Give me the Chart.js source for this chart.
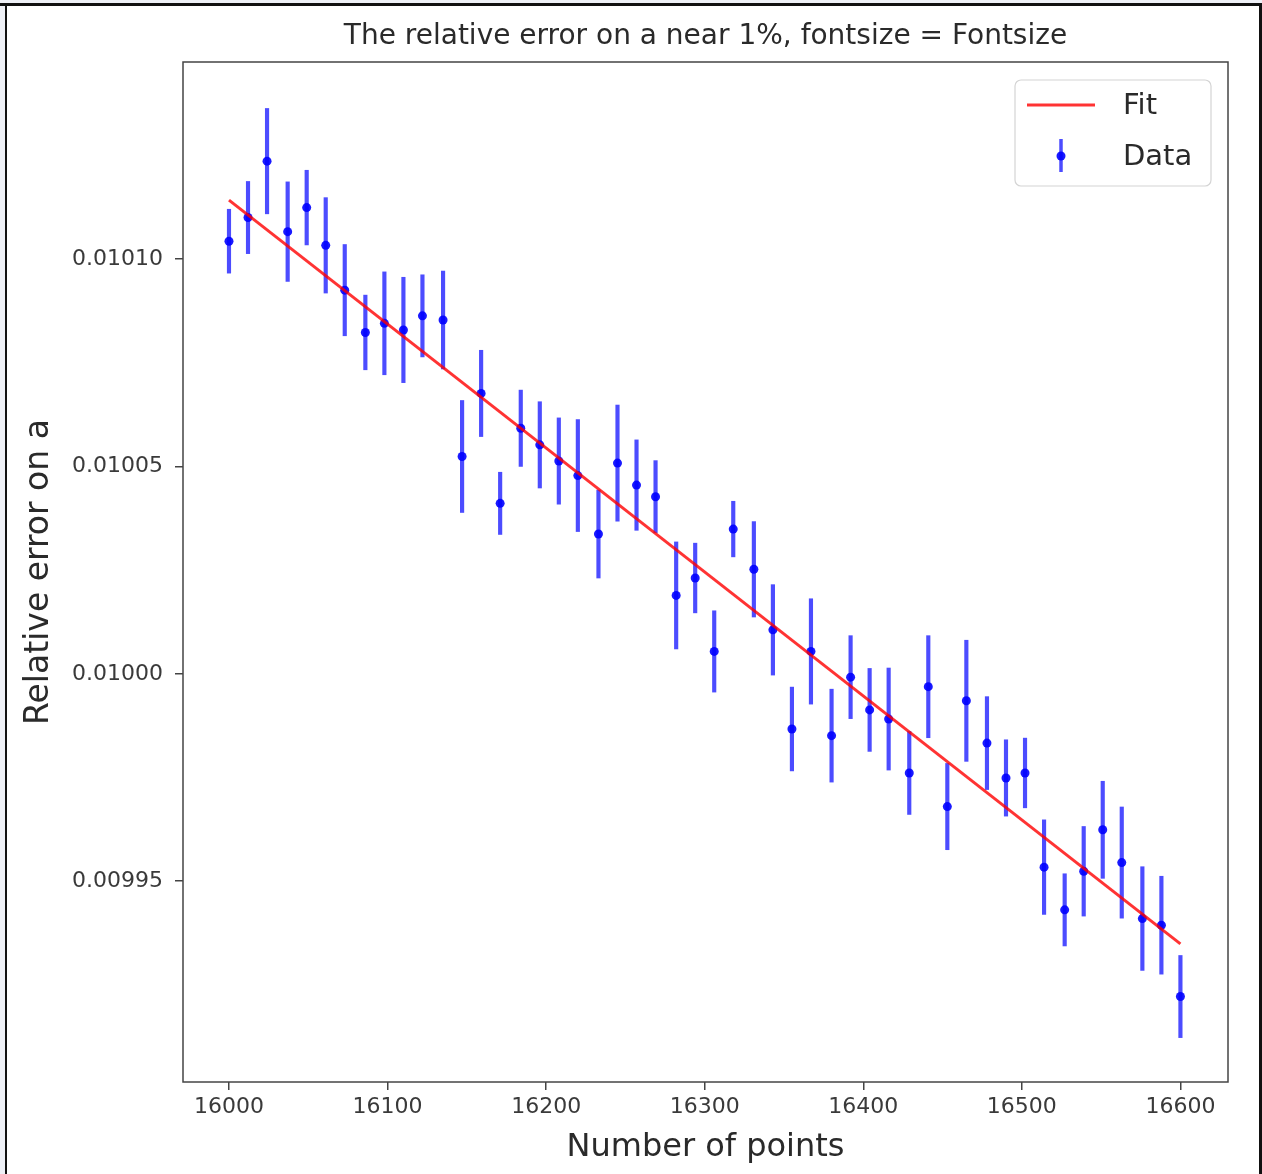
<!DOCTYPE html>
<html>
<head>
<meta charset="utf-8">
<script src="https://cdn.jsdelivr.net/npm/chart.js@4.4.0/dist/chart.umd.min.js"></script>
<style>
  html, body { margin: 0; padding: 0; background: #fff; }
  #wrap { width: 1262px; height: 1174px; }
</style>
</head>
<body>
<div id="wrap"><canvas id="errChart" width="1262" height="1174"></canvas></div>
<script>
  // number of points (x), measured relative error (y) and its error bar (x1e-6)
  const nPoints = [16000, 16012, 16024, 16037, 16049, 16061, 16073, 16086, 16098, 16110,
                   16122, 16135, 16147, 16159, 16171, 16184, 16196, 16208, 16220, 16233,
                   16245, 16257, 16269, 16282, 16294, 16306, 16318, 16331, 16343, 16355,
                   16367, 16380, 16392, 16404, 16416, 16429, 16441, 16453, 16465, 16478,
                   16490, 16502, 16514, 16527, 16539, 16551, 16563, 16576, 16588, 16600];
  const relErr = [0.0101043, 0.0101100, 0.0101236, 0.0101066, 0.0101124, 0.0101033, 0.0100925, 0.0100823, 0.0100845, 0.0100829,
                  0.0100863, 0.0100853, 0.0100524, 0.0100676, 0.0100411, 0.0100592, 0.0100552, 0.0100513, 0.0100478, 0.0100337,
                  0.0100508, 0.0100455, 0.0100427, 0.0100189, 0.0100231, 0.0100054, 0.0100349, 0.0100252, 0.0100106, 0.0099867,
                  0.0100054, 0.0099851, 0.0099992, 0.0099913, 0.0099891, 0.0099761, 0.0099969, 0.0099680, 0.0099935, 0.0099833,
                  0.0099749, 0.0099761, 0.0099534, 0.0099431, 0.0099524, 0.0099624, 0.0099545, 0.0099410, 0.0099394, 0.0099222];
  const relErrSigma = [7.7, 8.7, 12.7, 12.0, 9.0, 11.5, 11.0, 9.0, 12.4, 12.7,
                       9.9, 11.8, 13.5, 10.4, 7.5, 9.2, 10.4, 10.4, 13.5, 10.6,
                       14.0, 10.9, 8.7, 12.9, 8.4, 9.8, 6.7, 11.5, 10.9, 10.1,
                       12.7, 11.2, 10.0, 10.0, 12.3, 10.0, 12.3, 10.4, 14.6, 11.2,
                       9.2, 8.4, 11.4, 8.7, 10.8, 11.7, 13.4, 12.5, 11.8, 9.9];

  // linear fit end points
  const fitX = [16000, 16600];
  const fitY = [0.0101142, 0.0099349];

  const xTicks = [16000, 16100, 16200, 16300, 16400, 16500, 16600];
  const yTicks = [0.00995, 0.01000, 0.01005, 0.01010];

  const titleText = 'The relative error on a near 1%, fontsize = Fontsize';
  const FONT = "'DejaVu Sans', sans-serif";

  const decorPlugin = {
      id: 'decor',
      beforeDraw: (chart) => {
          const ctx = chart.ctx;
          const w = chart.width, h = chart.height;
          ctx.save();
          ctx.fillStyle = '#fff';
          ctx.fillRect(0, 0, w, h);
          // screenshot frame
          ctx.fillStyle = '#eef0f6';
          ctx.fillRect(0, 0, w, 3);
          ctx.fillRect(0, 0, 5, h);
          ctx.fillStyle = '#111';
          ctx.fillRect(0, 3, w, 3);
          ctx.fillRect(5, 3, 2, h);
          ctx.fillRect(1259, 3, 3, h);
          ctx.restore();
      },
      afterDraw: (chart) => {
          const ctx = chart.ctx;
          const a = chart.chartArea;
          ctx.save();
          // axes box
          ctx.strokeStyle = '#444';
          ctx.lineWidth = 1.5;
          ctx.strokeRect(a.left, a.top, a.right - a.left, a.bottom - a.top);

          // title
          ctx.fillStyle = '#2a2a2a';
          ctx.font = '28px ' + FONT;
          ctx.textAlign = 'center';
          ctx.textBaseline = 'middle';
          ctx.fillText(titleText, (a.left + a.right) / 2, 37);

          // legend
          const bx = 1015, by = 80, bw = 196, bh = 106;
          ctx.fillStyle = 'rgba(255,255,255,0.85)';
          ctx.strokeStyle = '#d4d4d4';
          ctx.lineWidth = 1.2;
          ctx.beginPath();
          ctx.roundRect(bx, by, bw, bh, 6);
          ctx.fill();
          ctx.stroke();

          ctx.strokeStyle = 'rgba(255,0,0,0.8)';
          ctx.lineWidth = 3;
          ctx.beginPath();
          ctx.moveTo(1027, 105);
          ctx.lineTo(1095, 105);
          ctx.stroke();

          ctx.strokeStyle = 'rgba(0,0,255,0.7)';
          ctx.lineWidth = 3.5;
          ctx.beginPath();
          ctx.moveTo(1061, 139);
          ctx.lineTo(1061, 172);
          ctx.stroke();
          ctx.fillStyle = 'rgba(0,0,255,0.9)';
          ctx.beginPath();
          ctx.arc(1061, 156, 4.5, 0, Math.PI * 2);
          ctx.fill();

          ctx.fillStyle = '#2a2a2a';
          ctx.font = '29px ' + FONT;
          ctx.textAlign = 'left';
          ctx.fillText('Fit', 1123, 106);
          ctx.fillText('Data', 1123, 157);
          ctx.restore();
      }
  };

  const initChart = () => {
      const ctx = document.getElementById('errChart').getContext('2d');

      const points = nPoints.map((x, i) => ({ x: x, y: relErr[i] }));
      const bars = nPoints.map((x, i) => ({
          x: x,
          y: [relErr[i] - relErrSigma[i] * 1e-6, relErr[i] + relErrSigma[i] * 1e-6]
      }));
      const fit = fitX.map((x, i) => ({ x: x, y: fitY[i] }));

      new Chart(ctx, {
          type: 'bar',
          data: {
              datasets: [{
                  type: 'line',
                  label: 'Fit',
                  data: fit,
                  borderColor: 'rgba(255,0,0,0.8)',
                  borderWidth: 3,
                  pointRadius: 0,
                  fill: false,
                  order: 0
              }, {
                  type: 'scatter',
                  label: 'Data',
                  data: points,
                  pointRadius: 4.5,
                  backgroundColor: 'rgba(0,0,255,0.9)',
                  borderWidth: 0,
                  order: 1
              }, {
                  type: 'bar',
                  label: 'err',
                  data: bars,
                  backgroundColor: 'rgba(0,0,255,0.7)',
                  borderWidth: 0,
                  barThickness: 3.5,
                  order: 2
              }]
          },
          options: {
              responsive: false,
              animation: false,
              layout: { padding: { top: 62, right: 34, bottom: 0, left: 0 } },
              plugins: {
                  legend: { display: false },
                  title: { display: false },
                  tooltip: { enabled: false }
              },
              scales: {
                  x: {
                      type: 'linear',
                      min: 15971,
                      max: 16630,
                      offset: false,
                      afterBuildTicks: (s) => { s.ticks = xTicks.map(v => ({ value: v })); },
                      afterFit: (s) => { s.height = 92; },
                      grid: { drawOnChartArea: false, drawTicks: true, tickLength: 8, color: '#444', lineWidth: 1.5, offset: false },
                      border: { display: false },
                      ticks: { color: '#3a3a3a', font: { family: FONT, size: 22 }, padding: 4, maxRotation: 0, callback: v => String(v) },
                      title: { display: true, text: 'Number of points', color: '#2a2a2a', font: { family: FONT, size: 32 }, padding: { top: 0, bottom: 7 } }
                  },
                  y: {
                      type: 'linear',
                      min: 0.0099016,
                      max: 0.0101475,
                      afterBuildTicks: (s) => { s.ticks = yTicks.map(v => ({ value: v })); },
                      afterFit: (s) => { s.width = 183; },
                      grid: { drawOnChartArea: false, drawTicks: true, tickLength: 8, color: '#444', lineWidth: 1.5 },
                      border: { display: false },
                      ticks: { color: '#3a3a3a', font: { family: FONT, size: 22 }, padding: 12, callback: v => v.toFixed(5) },
                      title: { display: true, text: 'Relative error on a', color: '#2a2a2a', font: { family: FONT, size: 33 }, padding: { top: 20, bottom: 0 } }
                  }
              }
          },
          plugins: [decorPlugin]
      });
  };

  document.addEventListener('DOMContentLoaded', () => {
      initChart();
  });
</script>
</body>
</html>
